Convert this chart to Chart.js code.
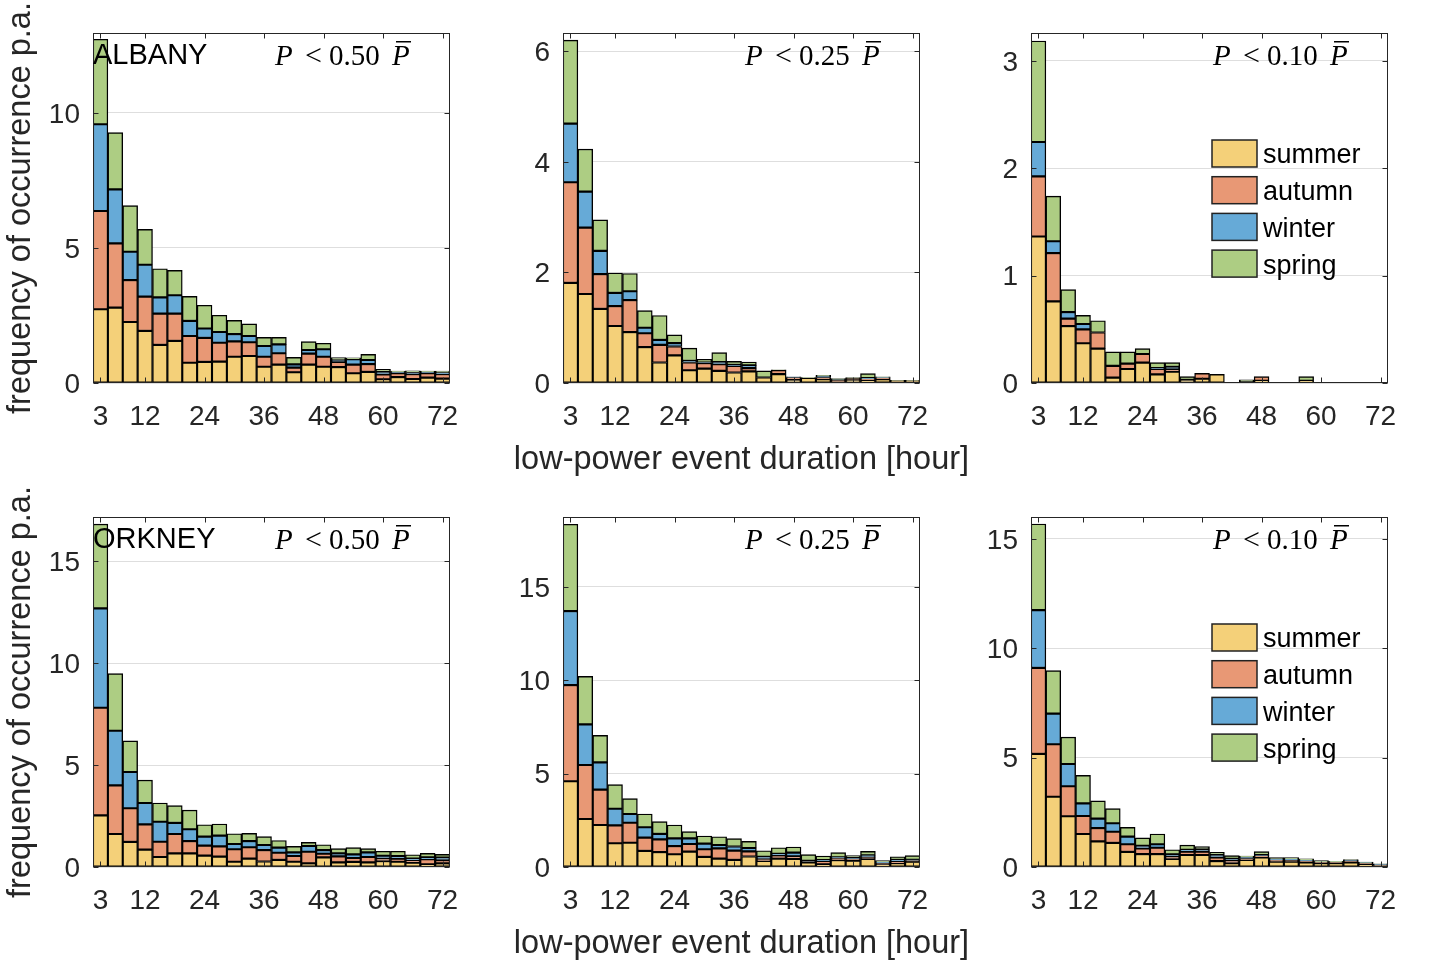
<!DOCTYPE html>
<html><head><meta charset="utf-8">
<script src="https://cdn.jsdelivr.net/npm/chart.js@4.4.0/dist/chart.umd.min.js"></script>
<style>
html,body{margin:0;padding:0;background:#fff;overflow:hidden;width:1429px;height:965px;}
canvas{position:absolute;}
</style></head><body>
<canvas id="c0" width="480" height="478" style="left:0px;top:0px"></canvas>
<canvas id="c1" width="510" height="478" style="left:470px;top:0px"></canvas>
<canvas id="c2" width="480" height="478" style="left:938px;top:0px"></canvas>
<canvas id="c3" width="480" height="478" style="left:0px;top:484px"></canvas>
<canvas id="c4" width="510" height="478" style="left:470px;top:484px"></canvas>
<canvas id="c5" width="480" height="478" style="left:938px;top:484px"></canvas>
<script>
// ---------- data ----------
const durationHours = [3,6,9,12,15,18,21,24,27,30,33,36,39,42,45,48,51,54,57,60,63,66,69,72];
const xTickValues = [3,12,24,36,48,60,72];
const seasonNames = ['summer','autumn','winter','spring'];
const seasonColors = ['rgb(244,208,121)','rgb(232,152,117)','rgb(102,170,215)','rgb(173,205,131)'];

// ALBANY, P < 0.50 Pbar
const albany050Summer = [2.73,2.79,2.26,1.93,1.41,1.56,0.75,0.78,0.79,0.97,1.00,0.60,0.68,0.40,0.68,0.60,0.59,0.36,0.41,0.14,0.22,0.15,0.20,0.16];
const albany050Autumn = [3.64,2.38,1.55,1.27,1.16,1.01,0.99,0.89,0.70,0.57,0.51,0.37,0.42,0.17,0.41,0.37,0.19,0.32,0.29,0.18,0.14,0.18,0.16,0.17];
const albany050Winter = [3.21,2.00,1.05,1.18,0.60,0.68,0.56,0.35,0.40,0.27,0.23,0.40,0.33,0.12,0.13,0.28,0.07,0.20,0.15,0.09,0.04,0.06,0.04,0.05];
const albany050Spring = [3.15,2.10,1.71,1.31,1.06,0.92,0.91,0.86,0.62,0.51,0.45,0.32,0.26,0.26,0.31,0.22,0.09,0.05,0.21,0.10,0.04,0.06,0.04,0.06];
// ALBANY, P < 0.25 Pbar
const albany025Summer = [1.81,1.61,1.34,1.03,0.92,0.65,0.37,0.50,0.23,0.26,0.22,0.19,0.21,0.10,0.16,0.06,0.09,0.07,0.02,0.06,0.05,0.07,0.03,0.03];
const albany025Autumn = [1.82,1.20,0.63,0.36,0.58,0.25,0.32,0.16,0.14,0.10,0.12,0.12,0.06,0.00,0.07,0.04,0.00,0.03,0.03,0.02,0.02,0.02,0.01,0.01];
const albany025Winter = [1.06,0.65,0.42,0.24,0.16,0.10,0.09,0.06,0.03,0.01,0.04,0.02,0.05,0.00,0.00,0.01,0.00,0.02,0.01,0.00,0.02,0.01,0.00,0.00];
const albany025Spring = [1.51,0.77,0.56,0.36,0.32,0.31,0.44,0.15,0.23,0.06,0.17,0.06,0.06,0.12,0.01,0.00,0.01,0.02,0.02,0.02,0.08,0.01,0.01,0.01];
// ALBANY, P < 0.10 Pbar
const albany010Summer = [1.365,0.76,0.53,0.37,0.32,0.05,0.13,0.19,0.08,0.105,0.03,0.04,0.08,0,0.01,0.02,0,0,0.02,0,0,0,0,0];
const albany010Autumn = [0.56,0.45,0.07,0.13,0.15,0.11,0.05,0.08,0.05,0.025,0,0.05,0,0,0,0.04,0,0,0,0,0,0,0,0];
const albany010Winter = [0.32,0.11,0.06,0.05,0,0,0,0,0.01,0.02,0,0,0,0,0,0,0,0,0,0,0,0,0,0];
const albany010Spring = [0.94,0.42,0.21,0.08,0.11,0.13,0.11,0.05,0.05,0.04,0.03,0,0,0,0.02,0,0,0,0.04,0,0,0,0,0];
// ORKNEY, P < 0.50 Pbar
const orkney050Summer = [2.53,1.62,1.23,0.85,0.49,0.67,0.67,0.56,0.51,0.26,0.41,0.27,0.35,0.26,0.18,0.47,0.23,0.25,0.23,0.29,0.26,0.21,0.13,0.18];
const orkney050Autumn = [5.28,2.38,1.65,1.24,0.75,0.95,0.60,0.49,0.50,0.61,0.56,0.56,0.35,0.28,0.57,0.18,0.29,0.19,0.26,0.12,0.15,0.10,0.25,0.16];
const orkney050Winter = [4.87,2.68,1.78,1.05,0.98,0.54,0.58,0.44,0.53,0.26,0.30,0.25,0.25,0.18,0.28,0.18,0.15,0.18,0.23,0.14,0.13,0.10,0.09,0.12];
const orkney050Spring = [4.13,2.80,1.52,1.12,0.92,0.85,0.94,0.58,0.57,0.50,0.38,0.41,0.35,0.29,0.18,0.26,0.23,0.33,0.18,0.22,0.23,0.19,0.20,0.16];
// ORKNEY, P < 0.25 Pbar
const orkney025Summer = [4.59,2.57,2.25,1.27,1.30,0.86,0.80,0.68,0.82,0.54,0.45,0.38,0.56,0.32,0.45,0.43,0.25,0.14,0.37,0.34,0.43,0.12,0.20,0.29];
const orkney025Autumn = [5.15,2.89,1.89,0.96,1.07,0.71,0.68,0.44,0.41,0.41,0.55,0.50,0.28,0.10,0.17,0.14,0.04,0.18,0.10,0.10,0.10,0.08,0.10,0.06];
const orkney025Winter = [3.96,2.18,1.46,0.89,0.47,0.56,0.29,0.41,0.30,0.30,0.18,0.22,0.18,0.13,0.09,0.20,0.04,0.05,0.05,0.05,0.10,0.06,0.08,0.04];
const orkney025Spring = [4.65,2.57,1.45,1.29,0.82,0.71,0.66,0.72,0.36,0.41,0.44,0.42,0.35,0.32,0.32,0.30,0.33,0.22,0.25,0.12,0.21,0.08,0.17,0.22];
// ORKNEY, P < 0.10 Pbar
const orkney010Summer = [5.17,3.21,2.32,1.51,1.17,1.10,0.69,0.59,0.59,0.37,0.55,0.55,0.27,0.18,0.32,0.44,0.24,0.24,0.21,0.17,0.17,0.21,0.12,0.07];
const orkney010Autumn = [3.93,2.40,1.37,0.82,0.61,0.51,0.35,0.26,0.29,0.10,0.15,0.15,0.17,0.11,0.07,0.07,0.08,0.07,0.06,0.04,0.04,0.05,0.05,0.03];
const orkney010Winter = [2.64,1.40,1.02,0.58,0.43,0.39,0.35,0.12,0.16,0.11,0.09,0.11,0.11,0.08,0.06,0.03,0.05,0.05,0.04,0.02,0.02,0.04,0.03,0.02];
const orkney010Spring = [3.94,1.97,1.23,1.28,0.81,0.67,0.42,0.36,0.47,0.21,0.21,0.12,0.12,0.15,0.05,0.16,0.06,0.07,0.06,0.06,0.03,0.04,0.03,0.03];

// axis limits and ticks
const yMaxes = [12.96, 6.33, 3.26, 17.16, 18.74, 16.0];
const yTickSets = [[0,5,10],[0,2,4,6],[0,1,2,3],[0,5,10,15],[0,5,10,15],[0,5,10,15]];
const thresholds = ['0.50','0.25','0.10','0.50','0.25','0.10'];
const stations = ['ALBANY','','','ORKNEY','',''];
const xTitle = 'low-power event duration [hour]';
const yTitle = 'frequency of occurrence p.a.';

const panelSeries = [
  [albany050Summer, albany050Autumn, albany050Winter, albany050Spring],
  [albany025Summer, albany025Autumn, albany025Winter, albany025Spring],
  [albany010Summer, albany010Autumn, albany010Winter, albany010Spring],
  [orkney050Summer, orkney050Autumn, orkney050Winter, orkney050Spring],
  [orkney025Summer, orkney025Autumn, orkney025Winter, orkney025Spring],
  [orkney010Summer, orkney010Autumn, orkney010Winter, orkney010Spring]
];

// ---------- drawing ----------
const SANS = '"Liberation Sans", Arial, Helvetica, sans-serif';
const SERIF = '"Liberation Serif", "Times New Roman", serif';
const AXC = '#262626';

const decor = {
  id: 'decor',
  afterDraw(chart, args, o) {
    const {ctx, chartArea: a, scales: {x, y}} = chart;
    ctx.save();
    const L = Math.round(a.left) + 0.5, R = Math.round(a.right) - 0.5;
    const T = Math.round(a.top) + 0.5, B = Math.round(a.bottom) - 0.5;
    ctx.strokeStyle = AXC; ctx.lineWidth = 1;
    ctx.beginPath();
    x.ticks.forEach(t => {
      const px = Math.round(x.getPixelForValue(t.value)) + 0.5;
      ctx.moveTo(px, B); ctx.lineTo(px, B - 5);
      ctx.moveTo(px, T); ctx.lineTo(px, T + 5);
    });
    y.ticks.forEach(t => {
      const py = Math.round(y.getPixelForValue(t.value)) + 0.5;
      ctx.moveTo(L, py); ctx.lineTo(L + 5, py);
      ctx.moveTo(R, py); ctx.lineTo(R - 5, py);
    });
    ctx.stroke();
    ctx.strokeRect(L, T, R - L, B - T);

    // axis titles
    ctx.fillStyle = AXC;
    ctx.font = '32.5px ' + SANS;
    ctx.textAlign = 'center';
    ctx.textBaseline = 'alphabetic';
    if (o.xTitle) ctx.fillText(o.xTitle, (a.left + a.right) / 2, a.bottom + 86);
    if (o.yTitle) {
      ctx.save();
      ctx.translate(a.left - 63, (a.top + a.bottom) / 2);
      ctx.rotate(-Math.PI / 2);
      ctx.fillText(o.yTitle, 0, 0);
      ctx.restore();
    }

    ctx.fillStyle = '#000';
    ctx.textAlign = 'left';
    if (o.station) {
      ctx.font = '29px ' + SANS;
      ctx.fillText(o.station, a.left, a.top + 31);
    }
    const base = a.top + 32, x0 = a.left + 182;
    ctx.font = 'italic 29px ' + SERIF;
    ctx.fillText('P', x0, base);
    ctx.font = '30px ' + SERIF;
    ctx.fillText('<', x0 + 30, base);
    ctx.font = '29px ' + SERIF;
    ctx.fillText(o.thr, x0 + 54, base);
    ctx.font = 'italic 29px ' + SERIF;
    ctx.fillText('P', x0 + 117, base);
    ctx.fillRect(x0 + 121, a.top + 8, 15, 1.5);

    if (o.legend) {
      ctx.font = '27px ' + SANS;
      ctx.textBaseline = 'middle';
      seasonNames.forEach((n, i) => {
        const bx = a.left + 181, by = a.top + 107 + i * 36.7;
        ctx.fillStyle = seasonColors[i];
        ctx.fillRect(bx, by, 45, 27);
        ctx.strokeStyle = '#222'; ctx.lineWidth = 1.5;
        ctx.strokeRect(bx, by, 45, 27);
        ctx.fillStyle = '#000';
        ctx.fillText(n, a.left + 232, by + 16);
      });
    }
    ctx.restore();
  }
};

panelSeries.forEach((series, p) => {
  const col = p % 3;
  const ticksY = yTickSets[p];
  new Chart(document.getElementById('c' + p), {
    type: 'bar',
    data: {
      datasets: series.map((vals, i) => ({
        label: seasonNames[i],
        data: durationHours.map((h, j) => ({x: h, y: vals[j]})),
        backgroundColor: seasonColors[i],
        borderColor: '#000',
        borderWidth: 1.4,
        borderSkipped: false,
        barPercentage: 1,
        categoryPercentage: 1
      }))
    },
    options: {
      responsive: false, animation: false, devicePixelRatio: 1,
      layout: {padding: {top: 33, right: col === 1 ? 60 : 30, left: 0, bottom: 0}},
      plugins: {
        legend: {display: false}, tooltip: {enabled: false},
        decor: {station: stations[p], thr: thresholds[p], legend: col === 2,
                xTitle: col === 1 ? xTitle : '', yTitle: col === 0 ? yTitle : ''}
      },
      scales: {
        x: {
          type: 'linear', stacked: true, offset: false, min: 1.5, max: 73.5,
          grid: {display: false, offset: false}, border: {display: false},
          afterBuildTicks: s => { s.ticks = xTickValues.map(v => ({value: v})); },
          afterFit: s => { s.height = 95; },
          ticks: {autoSkip: false, maxRotation: 0, padding: 9, color: AXC,
                  font: {family: SANS, size: 28}, callback: v => String(v)}
        },
        y: {
          stacked: true, min: 0, max: yMaxes[p],
          grid: {color: '#dedede', drawTicks: false, lineWidth: 1}, border: {display: false},
          afterBuildTicks: s => { s.ticks = ticksY.map(v => ({value: v})); },
          afterFit: s => { s.width = 93; },
          ticks: {padding: 13, labelOffset: 2, color: AXC, font: {family: SANS, size: 28}}
        }
      }
    },
    plugins: [decor]
  });
});
</script>
</body></html>
